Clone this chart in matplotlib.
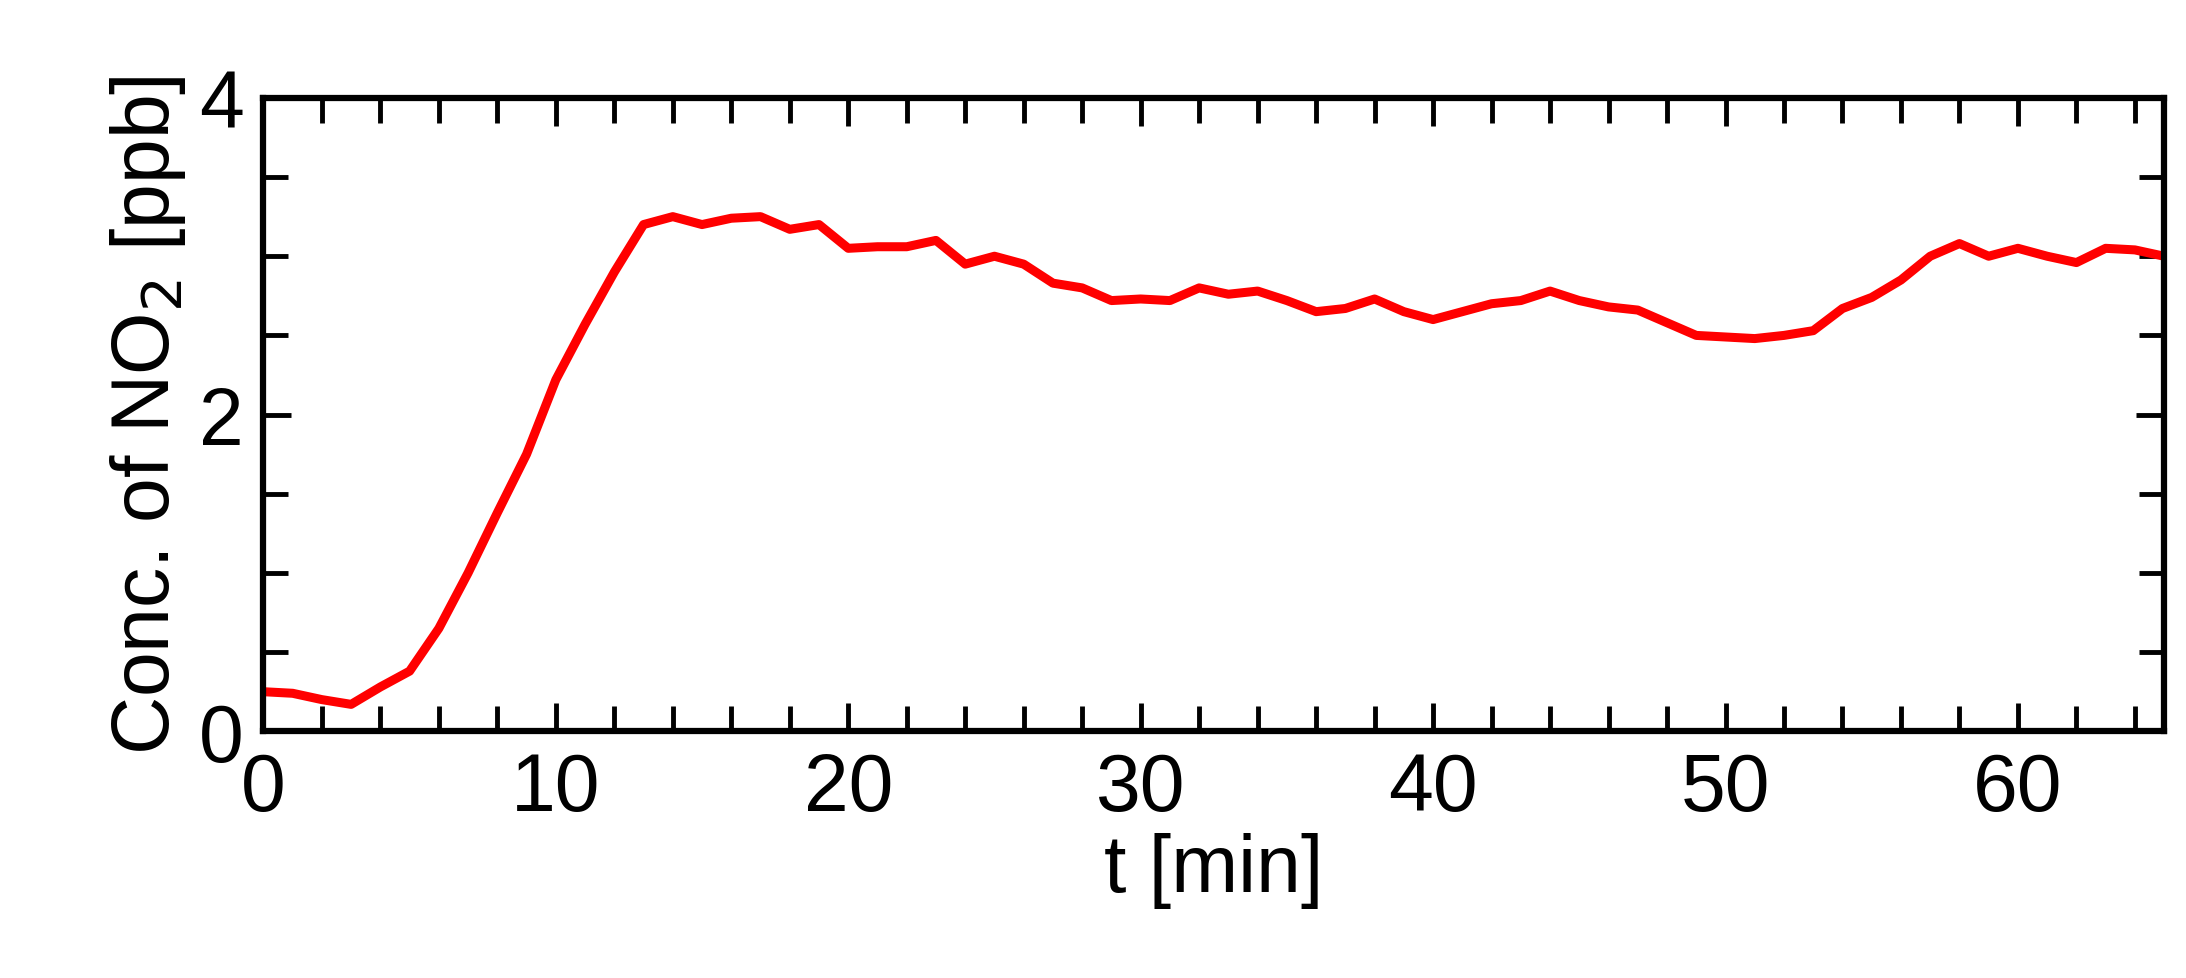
import numpy as np
import matplotlib.pyplot as plt
from matplotlib.ticker import MultipleLocator

t = list(range(0, 66))
no2 = [0.25, 0.24, 0.20, 0.17, 0.28, 0.38, 0.65, 1.00, 1.38, 1.75,
       2.22, 2.57, 2.90, 3.20, 3.25, 3.20, 3.24, 3.25, 3.17, 3.20,
       3.05, 3.06, 3.06, 3.10, 2.95, 3.00, 2.95, 2.83, 2.80, 2.72,
       2.73, 2.72, 2.80, 2.76, 2.78, 2.72, 2.65, 2.67, 2.73, 2.65,
       2.60, 2.65, 2.70, 2.72, 2.78, 2.72, 2.68, 2.66, 2.58, 2.50,
       2.49, 2.48, 2.50, 2.53, 2.67, 2.74, 2.85, 3.00, 3.08, 3.00,
       3.05, 3.00, 2.96, 3.05, 3.04, 3.00]

plt.rcParams['font.family'] = ['Liberation Sans', 'DejaVu Sans']
fig = plt.figure(figsize=(21.86, 9.79), dpi=100)
ax = fig.add_axes([0.1205, 0.252, 0.8695, 0.647])
ax.plot(t, no2, color='red', linewidth=6.5)
ax.set_xlim(0, 65)
ax.set_ylim(0, 4)
ax.xaxis.set_major_locator(MultipleLocator(10))
ax.xaxis.set_minor_locator(MultipleLocator(2))
ax.yaxis.set_major_locator(MultipleLocator(2))
ax.yaxis.set_minor_locator(MultipleLocator(0.5))
ax.tick_params(which='both', direction='in', top=True, right=True, width=3.5, labelsize=58, pad=14)
ax.tick_params(which='major', length=20)
ax.tick_params(which='minor', length=18)
for s in ax.spines.values():
    s.set_linewidth(4.5)
ax.set_xlabel('t [min]', fontsize=58, labelpad=4)
ax.set_ylabel('Conc. of NO$_2$ [ppb]', fontsize=58, labelpad=8)
fig.savefig('out.png', dpi=100)
